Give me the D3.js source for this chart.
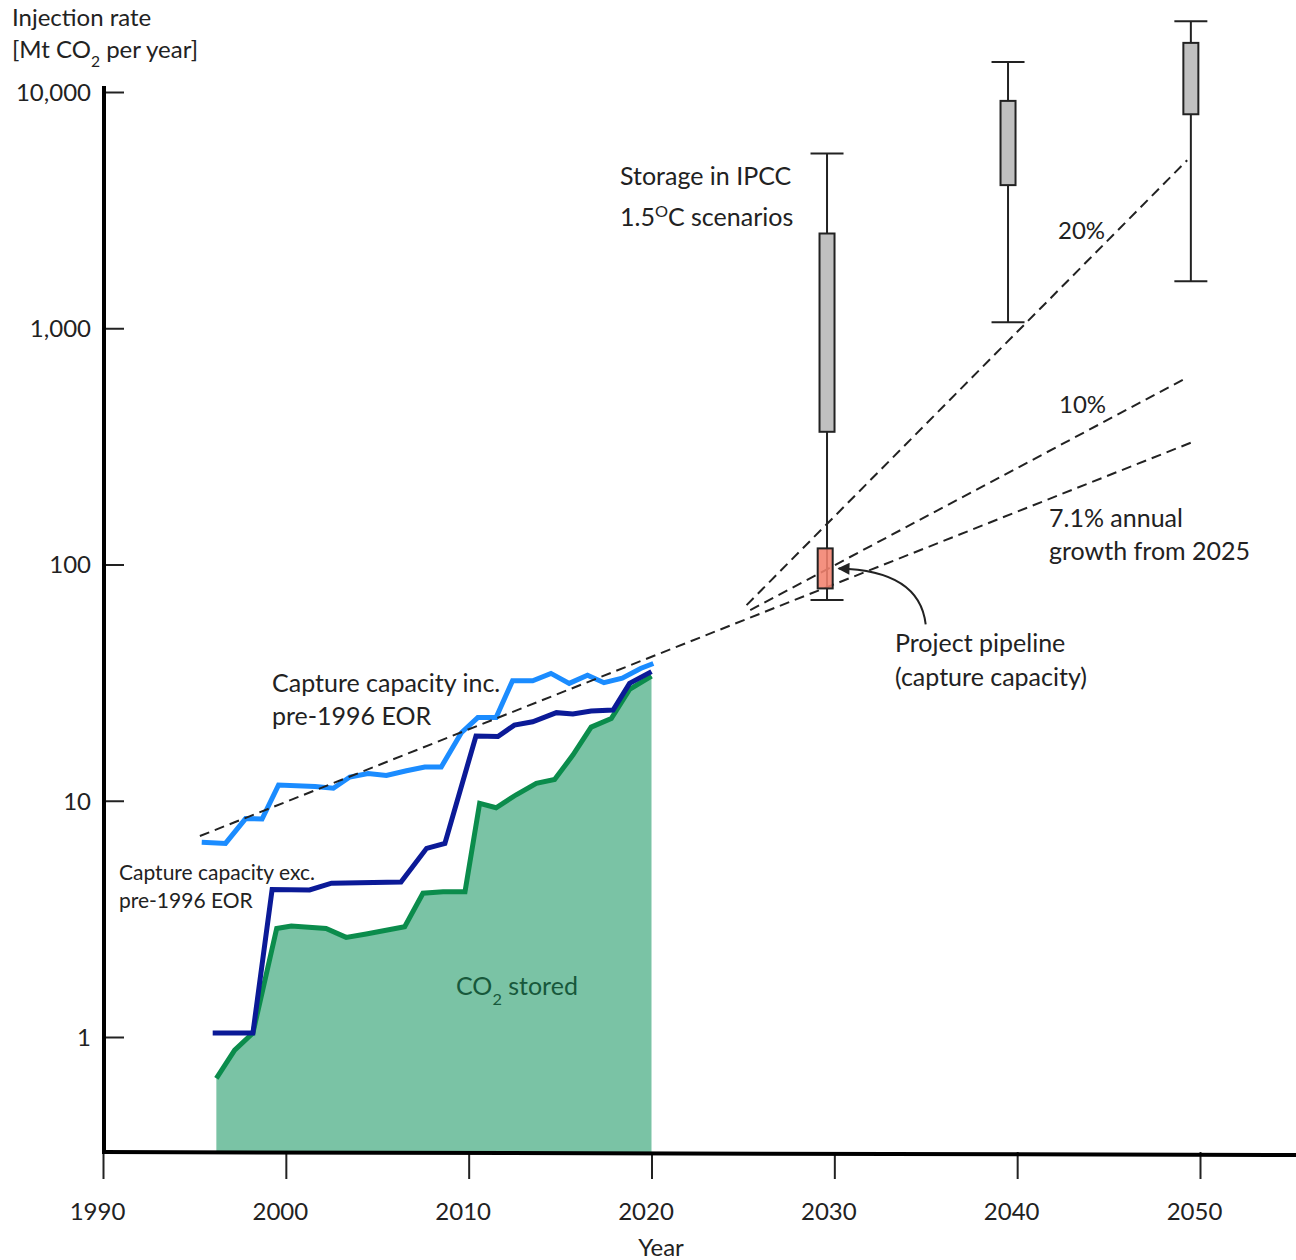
<!DOCTYPE html>
<html>
<head>
<meta charset="utf-8">
<script src="https://cdn.jsdelivr.net/npm/d3@7"></script>
<style>
  html, body { margin: 0; padding: 0; background: #fff; }
  svg { display: block; font-family: Lato, "Open Sans", sans-serif; }
</style>
</head>
<body>
<svg id="chart" width="1296" height="1260"></svg>
<script>
// ---------------- DATA ----------------
const xTickYears = [1990, 2000, 2010, 2020, 2030, 2040, 2050];
const yTickValues = [1, 10, 100, 1000, 10000];

// Capture capacity incl. pre-1996 EOR (Mt CO2 / yr)
const capIncYears = [1995.4, 1996.7, 1997.8, 1998.7, 1999.6, 2001.6, 2002.6, 2003.5, 2004.5, 2005.5, 2006.6, 2007.6, 2008.5, 2009.6, 2010.5, 2011.5, 2012.4, 2013.5, 2014.5, 2015.5, 2016.5, 2017.4, 2018.4, 2019.4, 2020.1];
const capIncValues = [6.67, 6.6, 8.4, 8.37, 11.65, 11.5, 11.3, 12.6, 13.05, 12.8, 13.4, 13.9, 13.9, 19.4, 22.5, 22.5, 32.2, 32.2, 34.6, 31.4, 34.0, 31.6, 33.0, 36.3, 38.1];

// Capture capacity excl. pre-1996 EOR
const capExcYears = [1996.0, 1998.2, 1999.25, 2001.3, 2002.5, 2006.3, 2007.7, 2008.7, 2010.4, 2011.6, 2012.5, 2013.5, 2014.8, 2015.7, 2016.7, 2017.9, 2018.8, 2020.0];
const capExcValues = [1.04, 1.04, 4.21, 4.19, 4.48, 4.53, 6.29, 6.6, 18.8, 18.7, 20.9, 21.6, 23.6, 23.3, 24.0, 24.2, 31.4, 35.2];

// CO2 stored
const storedYears = [1996.2, 1997.2, 1998.2, 1999.5, 2000.3, 2002.2, 2003.3, 2004.4, 2006.5, 2007.5, 2008.6, 2009.8, 2010.6, 2011.5, 2012.6, 2013.7, 2014.7, 2015.7, 2016.7, 2017.8, 2018.8, 2020.0];
const storedValues = [0.668, 0.88, 1.04, 2.88, 2.95, 2.88, 2.64, 2.73, 2.93, 4.06, 4.12, 4.12, 9.75, 9.34, 10.6, 11.85, 12.3, 15.6, 20.5, 22.3, 29.6, 33.7];

// Growth trend lines (start / end points)
const trendLabels = ["7.1%", "10%", "20%"];
const trendStartYears = [1995.3, 2025.4, 2025.2];
const trendStartValues = [7.09, 64.1, 67.3];
const trendEndYears = [2049.6, 2049.1, 2049.3];
const trendEndValues = [330, 607, 5145];

// Storage in IPCC 1.5C scenarios (box plots)
const boxYears = [2029.6, 2039.5, 2049.5];
const boxMin = [70.7, 1061, 1582];
const boxQ1 = [364.5, 4035, 8050];
const boxQ3 = [2518, 9170, 16140];
const boxMax = [5495, 13400, 19950];

// Project pipeline (capture capacity)
const pipelineYear = [2029.5];
const pipelineLow = [79.2];
const pipelineHigh = [117];

const yAxisBottomValue = 0.326;

// ---------------- CHART ----------------
const svg = d3.select("#chart");
const x = d3.scaleLinear().domain([1990, 2050]).range([103, 1200]);
const y = d3.scaleLog().domain([1, 10000]).range([1037, 92]);
const baseY = y(yAxisBottomValue);
const ink = "#222";

const zip = (xs, ys) => xs.map((d, i) => [d, ys[i]]);
const line = d3.line().x(d => x(d[0])).y(d => y(d[1]));

// area: CO2 stored
const stored = zip(storedYears, storedValues);
const area = d3.area().x(d => x(d[0])).y0(baseY).y1(d => y(d[1]));
svg.append("path").datum(stored).attr("d", area).attr("fill", "#7ac3a5");
svg.append("path").datum(stored).attr("d", line)
  .attr("fill", "none").attr("stroke", "#0b8c4c").attr("stroke-width", 5);

svg.append("path").datum(zip(capExcYears, capExcValues)).attr("d", line)
  .attr("fill", "none").attr("stroke", "#0b1a97").attr("stroke-width", 5);
svg.append("path").datum(zip(capIncYears, capIncValues)).attr("d", line)
  .attr("fill", "none").attr("stroke", "#1b8cff").attr("stroke-width", 5);

// trend lines
trendLabels.forEach((t, i) => {
  svg.append("path")
    .datum([[trendStartYears[i], trendStartValues[i]], [trendEndYears[i], trendEndValues[i]]])
    .attr("d", line).attr("fill", "none").attr("stroke", ink)
    .attr("stroke-width", 2).attr("stroke-dasharray", "10,6");
});

// box plots
const bw = 15, cap = 33;
boxYears.forEach((yr, i) => {
  const cx = x(yr);
  const g = svg.append("g");
  g.append("line").attr("x1", cx).attr("x2", cx).attr("y1", y(boxMax[i])).attr("y2", y(boxMin[i]))
    .attr("stroke", ink).attr("stroke-width", 2);
  g.append("line").attr("x1", cx - cap / 2).attr("x2", cx + cap / 2).attr("y1", y(boxMax[i])).attr("y2", y(boxMax[i]))
    .attr("stroke", ink).attr("stroke-width", 2);
  g.append("line").attr("x1", cx - cap / 2).attr("x2", cx + cap / 2).attr("y1", y(boxMin[i])).attr("y2", y(boxMin[i]))
    .attr("stroke", ink).attr("stroke-width", 2);
  g.append("rect").attr("x", cx - bw / 2).attr("width", bw)
    .attr("y", y(boxQ3[i])).attr("height", y(boxQ1[i]) - y(boxQ3[i]))
    .attr("fill", "#c0c0c0").attr("stroke", ink).attr("stroke-width", 2);
});

// pipeline box
pipelineYear.forEach((yr, i) => {
  const cx = x(yr);
  svg.append("rect").attr("x", cx - bw / 2).attr("width", bw)
    .attr("y", y(pipelineHigh[i])).attr("height", y(pipelineLow[i]) - y(pipelineHigh[i]))
    .attr("fill", "#f3826e").attr("fill-opacity", 0.88).attr("stroke", ink).attr("stroke-width", 2);
});

// arrow annotation
svg.append("defs").append("marker").attr("id", "ah")
  .attr("viewBox", "0 0 10 10").attr("refX", 9).attr("refY", 5)
  .attr("markerWidth", 16).attr("markerHeight", 12).attr("markerUnits", "userSpaceOnUse")
  .attr("orient", "auto")
  .append("path").attr("d", "M0,0 L10,5 L0,10 Z").attr("fill", ink);
{
  const tipX = x(pipelineYear[0]) + bw / 2 + 6;
  const tipY = (y(pipelineLow[0]) + y(pipelineHigh[0])) / 2;
  const sx = tipX + 87, sy = tipY + 56;
  svg.append("path")
    .attr("d", `M${sx},${sy} Q${sx - 6},${tipY + 2} ${tipX},${tipY}`)
    .attr("fill", "none").attr("stroke", ink).attr("stroke-width", 2)
    .attr("marker-end", "url(#ah)");
}

// axes
const yAxis = d3.axisRight(y).tickValues(yTickValues).tickFormat(d3.format(",")).tickSize(20);
const gy = svg.append("g").attr("transform", `translate(104,0)`).call(yAxis);
gy.select(".domain").remove();
gy.selectAll(".tick line").attr("stroke", ink).attr("stroke-width", 2);
gy.selectAll(".tick text").attr("x", -13).attr("dy", "0.35em").attr("text-anchor", "end")
  .attr("font-size", 24).attr("fill", ink).attr("font-family", "Lato, sans-serif");
svg.append("line").attr("x1", 104).attr("x2", 104).attr("y1", y(10000) - 6).attr("y2", baseY + 2)
  .attr("stroke", "#000").attr("stroke-width", 4);

const xAxis = d3.axisBottom(x).tickValues(xTickYears).tickFormat(d3.format("d")).tickSize(27);
const gx = svg.append("g").attr("transform", `translate(0,${baseY})`).call(xAxis);
gx.select(".domain").remove();
gx.selectAll(".tick line").attr("stroke", ink).attr("stroke-width", 2);
gx.selectAll(".tick text").attr("y", 60).attr("dy", "0.35em").attr("dx", -6)
  .attr("font-size", 24).attr("fill", ink).attr("font-family", "Lato, sans-serif");
svg.append("line").attr("x1", 102).attr("x2", 1296).attr("y1", baseY).attr("y2", baseY + 3)
  .attr("stroke", "#000").attr("stroke-width", 4);

// ---------------- TEXT ----------------
function label(xp, yp, parts, size, color, anchor) {
  const t = svg.append("text").attr("x", xp).attr("y", yp)
    .attr("font-size", size).attr("fill", color || ink).attr("text-anchor", anchor || "start");
  parts.forEach(p => {
    if (typeof p === "string") t.append("tspan").text(p);
    else t.append("tspan").attr("baseline-shift", p.shift).attr("font-size", size * 0.65).text(p.t);
  });
  return t;
}
label(12, 26, ["Injection rate"], 24);
label(12, 58, ["[Mt CO", { t: "2", shift: "sub" }, " per year]"], 24);

label(620, 185, ["Storage in IPCC"], 25);
label(620, 226, ["1.5", { t: "O", shift: "super" }, "C scenarios"], 25);

label(1058, 239, ["20%"], 24);
label(1059, 413, ["10%"], 24);
label(1049, 527, ["7.1% annual"], 25);
label(1049, 560, ["growth from 2025"], 25);

label(895, 652, ["Project pipeline"], 25);
label(895, 686, ["(capture capacity)"], 25);

label(272, 692, ["Capture capacity inc."], 25);
label(272, 725, ["pre-1996 EOR"], 25);

label(119, 880, ["Capture capacity exc."], 21);
label(119, 908, ["pre-1996 EOR"], 21);

label(456, 995, ["CO", { t: "2", shift: "sub" }, " stored"], 25, "#17583b");

label(661, 1256, ["Year"], 24, ink, "middle");
</script>
</body>
</html>
